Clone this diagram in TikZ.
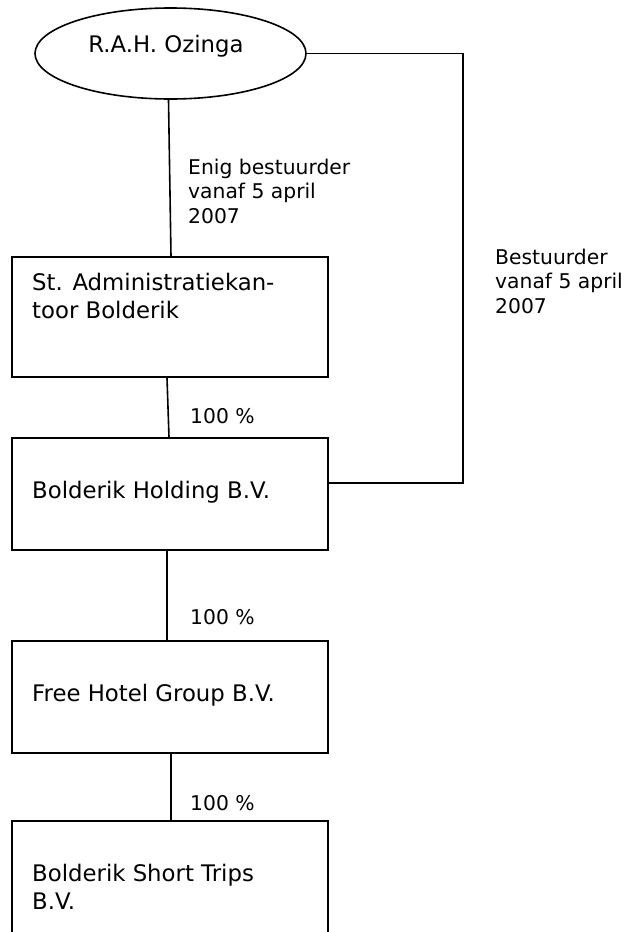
\documentclass[tikz,border=0pt]{standalone}
\usepackage{fontspec}
\setmainfont{DejaVu Sans}
\usetikzlibrary{shapes.geometric}
\newcommand{\boxfont}{\fontsize{22.8}{28}\selectfont}
\newcommand{\lblfont}{\fontsize{20.3}{24.2}\selectfont}
\tikzset{
  ln/.style={line width=1.6pt, draw=black},
  orgbox/.style={ln, rectangle, minimum width=316pt, inner sep=0pt},
  boxtxt/.style={font=\boxfont, anchor=base west, inner sep=0pt, align=left},
  lbltxt/.style={font=\lblfont, anchor=base west, inner sep=0pt, align=left},
  conn/.style={line width=1.6pt}
}
\begin{document}
\begin{tikzpicture}[x=1pt,y=1pt]
\useasboundingbox (0,0) rectangle (625,-932);
\clip (0,0) rectangle (625,-932);
\fill[white] (0,0) rectangle (625,-932);
% owner
\node[ln, ellipse, minimum width=271pt, minimum height=91pt, inner sep=0pt] (oz) at (170.5,-53.5) {};
\node[font=\boxfont, anchor=base, inner sep=0pt] (ozt) at (166,-52) {R.A.H. Ozinga};
% boxes
\node[orgbox, minimum height=120pt] (b1) at (170,-317) {};
\node[orgbox, minimum height=112pt] (b2) at (170,-494) {};
\node[orgbox, minimum height=112pt] (b3) at (170,-697) {};
\node[orgbox, minimum height=180pt] (b4) at (170,-911) {};
% box texts (base anchor = last line)
\node[boxtxt] (t1) at (32,-318) {St. Administratiekan-\\toor Bolderik};
\node[boxtxt] (t2) at (32,-498) {Bolderik Holding B.V.};
\node[boxtxt] (t3) at (32,-701) {Free Hotel Group B.V.};
\node[boxtxt] (t4) at (32,-909) {Bolderik Short Trips\\B.V.};
% labels
\node[lbltxt] (l1) at (188,-223) {Enig bestuurder\\vanaf 5 april\\2007};
\node[lbltxt] (l2) at (495,-313) {Bestuurder\\vanaf 5 april\\2007};
\node[lbltxt] (p1) at (190,-423) {100 \%};
\node[lbltxt] (p2) at (190,-624) {100 \%};
\node[lbltxt] (p3) at (190,-810) {100 \%};
% connectors
\coordinate (j) at (463,-483);
\draw[conn] ([xshift=-2pt]oz.south) -- ([xshift=1pt]b1.north);
\draw[conn] ([xshift=-3pt]b1.south) -- ([xshift=-1pt]b2.north);
\draw[conn] ([xshift=-3pt]b2.south) -- ([xshift=-3pt]b3.north);
\draw[conn] ([xshift=1pt]b3.south) -- ([xshift=1pt]b4.north);
\draw[conn] (oz.east) -| (j) -- (j -| b2.east);
\end{tikzpicture}
\end{document}
